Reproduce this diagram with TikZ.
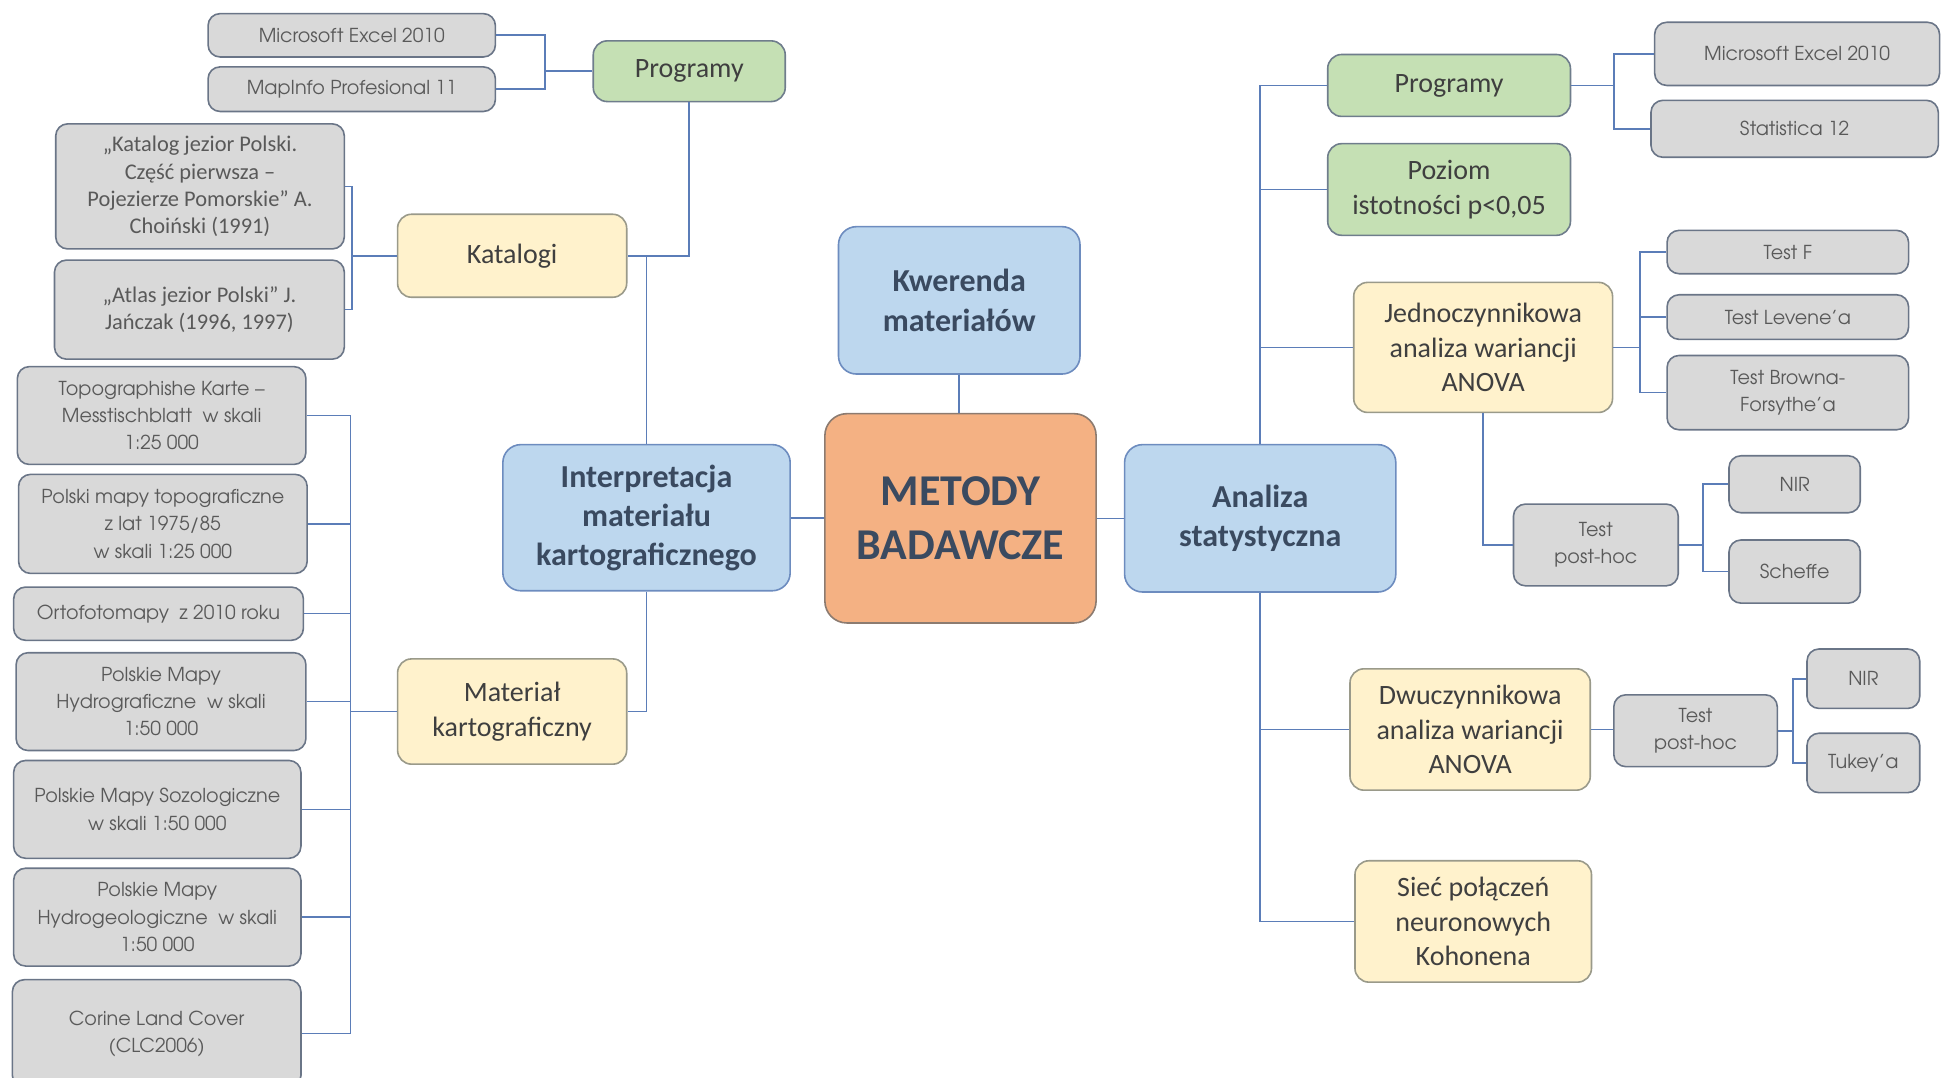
\documentclass[tikz,border=0pt]{standalone}
\usepackage{fontspec}
\setmainfont{Carlito}
\newfontfamily\gothic{TeX Gyre Adventor}
\definecolor{cBlueF}{HTML}{BDD7EE}
\definecolor{cBlueD}{HTML}{6D8CBF}
\definecolor{cOrF}{HTML}{F4B183}
\definecolor{cOrD}{HTML}{8C7B70}
\definecolor{cGrF}{HTML}{C5E0B4}
\definecolor{cGrD}{HTML}{6F7D8C}
\definecolor{cYeF}{HTML}{FFF2CC}
\definecolor{cYeD}{HTML}{9A9A8A}
\definecolor{cGyF}{HTML}{D9D9D9}
\definecolor{cGyD}{HTML}{6A7587}
\definecolor{cGyT}{HTML}{595959}
\definecolor{cDark}{HTML}{3A4A60}
\definecolor{cTxt}{HTML}{3F3F3F}
\definecolor{cLine}{HTML}{5B7DB8}
\tikzset{
 box/.style={draw, line width=0.8pt, inner sep=0pt, align=center},
 bluebox/.style={box, fill=cBlueF, draw=cBlueD, rounded corners=9pt, text=cDark, font=\bfseries\fontsize{16}{19.6}\selectfont},
 orbox/.style={box, fill=cOrF, draw=cOrD, rounded corners=11pt, text=cDark, font=\bfseries\fontsize{22}{27}\selectfont},
 grbox/.style={box, fill=cGrF, draw=cGrD, rounded corners=7pt, text=cTxt, font=\fontsize{14}{17.3}\selectfont},
 yebox/.style={box, fill=cYeF, draw=cYeD, rounded corners=7pt, text=cTxt, font=\fontsize{14}{17.3}\selectfont},
 gybox/.style={box, fill=cGyF, draw=cGyD, rounded corners=6pt, text=cGyT, font=\gothic\fontsize{9.6}{13.6}\selectfont},
 gykat/.style={gybox, font=\fontsize{11.2}{13.6}\selectfont},
 conn/.style={draw=cLine, line width=0.8pt},
}
\newcommand\bx[7]{%
  \pgfmathsetmacro\mybw{(#5-#3)*0.61925}%
  \pgfmathsetmacro\mybh{(#6-#4)*0.61925}%
  \node[#2,minimum width=\mybw pt,minimum height=\mybh pt] (#1) at ({(#3+#5)/2},{(#4+#6)/2}) {#7};}
\begin{document}
\begin{tikzpicture}[x=0.61925pt,y=-0.61925pt]
\clip (0,0) rectangle (1568,870);
% left
\bx{lexcel}{gybox}{168}{11}{400}{46}{Microsoft Excel 2010}
\bx{lmap}{gybox}{168}{54}{400}{90}{MapInfo Profesional 11}
\bx{lprog}{grbox}{479}{33}{634}{82}{Programy}
\bx{kat1}{gykat}{45}{100}{278}{201}{„Katalog jezior Polski.\\Część pierwsza –\\Pojezierze Pomorskie” A.\\Choiński (1991)}
\bx{kat2}{gykat}{44}{210}{278}{290}{„Atlas jezior Polski” J.\\Jańczak (1996, 1997)}
\bx{katalogi}{yebox}{321}{173}{506}{240}{Katalogi}
\bx{topo}{gybox}{14}{296}{247}{375}{Topographishe Karte –\\Messtischblatt \ w skali\\1:25 000}
\bx{polski}{gybox}{15}{383}{248}{463}{Polski mapy topograficzne\\z lat 1975/85\\w skali 1:25 000}
\bx{orto}{gybox}{11}{474}{245}{517}{Ortofotomapy \ z 2010 roku}
\bx{hydro}{gybox}{13}{527}{247}{606}{Polskie Mapy\\Hydrograficzne \ w skali\\1:50 000}
\bx{sozo}{gybox}{11}{614}{243}{693}{Polskie Mapy Sozologiczne\\w skali 1:50 000}
\bx{hgeo}{gybox}{11}{701}{243}{780}{Polskie Mapy\\Hydrogeologiczne \ w skali\\1:50 000}
\bx{corine}{gybox}{10}{791}{243}{878}{Corine Land Cover\\(CLC2006)}
\bx{material}{yebox}{321}{532}{506}{617}{Materiał\\kartograficzny}
\bx{interp}{bluebox}{406}{359}{638}{477}{Interpretacja\\materiału\\kartograficznego}
% centre
\bx{metody}{orbox}{666}{334}{885}{503}{METODY\\BADAWCZE}
\bx{kwer}{bluebox}{677}{183}{872}{302}{Kwerenda\\materiałów}
\bx{analiza}{bluebox}{908}{359}{1127}{478}{Analiza\\statystyczna}
% right
\bx{rprog}{grbox}{1072}{44}{1268}{94}{Programy}
\bx{poziom}{grbox}{1072}{116}{1268}{190}{Poziom\\istotności p<0,05}
\bx{rexcel}{gybox}{1336}{18}{1566}{69}{Microsoft Excel 2010}
\bx{stat}{gybox}{1333}{81}{1565}{127}{Statistica 12}
\bx{jedno}{yebox}{1093}{228}{1302}{333}{Jednoczynnikowa\\analiza wariancji\\ANOVA}
\bx{testf}{gybox}{1346}{186}{1541}{221}{Test F}
\bx{levene}{gybox}{1346}{238}{1541}{274}{Test Levene’a}
\bx{browna}{gybox}{1346}{287}{1541}{347}{Test Browna-\\Forsythe’a}
\bx{ph1}{gybox}{1222}{407}{1355}{473}{Test\\post-hoc}
\bx{nir1}{gybox}{1396}{368}{1502}{414}{NIR}
\bx{scheffe}{gybox}{1396}{436}{1502}{487}{Scheffe}
\bx{dwu}{yebox}{1090}{540}{1284}{638}{Dwuczynnikowa\\analiza wariancji\\ANOVA}
\bx{ph2}{gybox}{1303}{561}{1435}{619}{Test\\post-hoc}
\bx{nir2}{gybox}{1459}{524}{1550}{572}{NIR}
\bx{tukey}{gybox}{1459}{592}{1550}{640}{Tukey’a}
\bx{siec}{yebox}{1094}{695}{1285}{793}{Sieć połączeń\\neuronowych\\Kohonena}
% junctions
\coordinate (jL1) at (440,57.5);
\coordinate (jKat) at (284,206.5);
\coordinate (jMat) at (283,574.5);
\coordinate (jR1) at (1303,69);
\coordinate (jJ) at (1324,280.5);
\coordinate (jP1) at (1375,440);
\coordinate (jP2) at (1447.6,590);
% connectors left
\draw[conn] (lexcel.east) -| (jL1);
\draw[conn] (lmap.east) -| (jL1);
\draw[conn] (jL1) -- (lprog.west);
\draw[conn] (lprog.south) |- (katalogi.east);
\draw[conn] (kat1.east) -| (jKat);
\draw[conn] (kat2.east) -| (jKat);
\draw[conn] (jKat) -- (katalogi.west);
\draw[conn] (interp.north) -- (interp.north |- katalogi.east);
\draw[conn] (interp.south) |- (material.east);
\foreach \n in {topo,polski,orto,hydro,sozo,hgeo,corine}
  \draw[conn] (\n.east) -| (jMat);
\draw[conn] (jMat) -- (material.west);
% centre
\draw[conn] (interp.east) -- (metody.west |- interp.east);
\draw[conn] (kwer.south) -- (kwer.south |- metody.north);
\draw[conn] (metody.east) -- (analiza.west |- metody.east);
% right
\draw[conn] (analiza.north) |- (rprog.west);
\draw[conn] (analiza.north) |- (poziom.west);
\draw[conn] (analiza.north) |- (jedno.west);
\draw[conn] (analiza.south) |- (dwu.west);
\draw[conn] (analiza.south) |- (siec.west);
\draw[conn] (rprog.east) -- (jR1);
\draw[conn] (jR1) |- (rexcel.west);
\draw[conn] (jR1) |- (stat.west);
\draw[conn] (jedno.east) -- (jJ);
\draw[conn] (jJ) |- (testf.west);
\draw[conn] (jJ) |- (levene.west);
\draw[conn] (jJ) |- (browna.west);
\draw[conn] (jedno.south) |- (ph1.west);
\draw[conn] (ph1.east) -- (jP1);
\draw[conn] (jP1) |- (nir1.west);
\draw[conn] (jP1) |- (scheffe.west);
\draw[conn] (dwu.east) -- (dwu.east -| ph2.west);
\draw[conn] (ph2.east) -- (jP2);
\draw[conn] (jP2) |- (nir2.west);
\draw[conn] (jP2) |- (tukey.west);
\end{tikzpicture}
\end{document}
